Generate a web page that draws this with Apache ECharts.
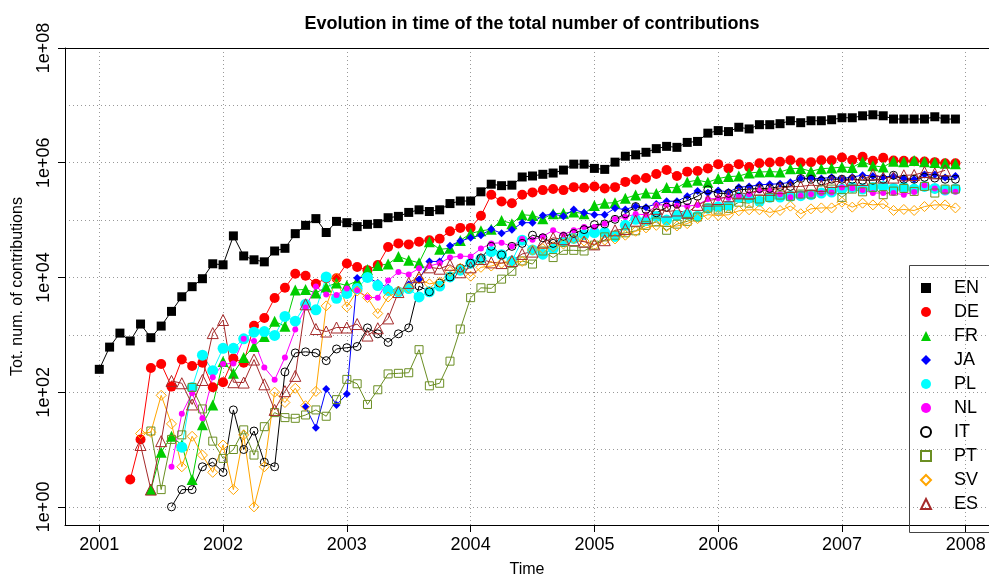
<!DOCTYPE html>
<html>
<head>
<meta charset="utf-8">
<script src="https://cdn.jsdelivr.net/npm/echarts@6/dist/echarts.min.js"></script>
<style>
  html, body { margin: 0; padding: 0; background: #fff; }
  #chart { width: 989px; height: 583px; }
</style>
</head>
<body>
<div id="chart"></div>
<script>
// monthly totals, month 0 = Jan 2001
const yearTicks = [2001, 2002, 2003, 2004, 2005, 2006, 2007, 2008];
const labelDecades = [1, 1e2, 1e4, 1e6, 1e8];
const gridDecades = [1, 1e1, 1e2, 1e3, 1e4, 1e5, 1e6, 1e7, 1e8];

const langs = ["EN", "DE", "FR", "JA", "PL", "NL", "IT", "PT", "SV", "ES"];
// first month with data for each language
const startMonth = { EN: 0, DE: 3, FR: 5, JA: 20, PL: 8, NL: 7, IT: 7, PT: 5, SV: 4, ES: 4 };

const EN = [250, 610, 1070, 780, 1540, 890, 1420, 2560, 4600, 6900,
  9500, 17300, 16600, 53000, 23700, 20300, 18700, 28900, 32200, 58000,
  80900, 106000, 60700, 94900, 90100, 76900, 84300, 86700, 110000, 116000,
  136000, 151000, 141000, 151000, 194000, 215000, 215000, 311000, 422000, 398000,
  406000, 564000, 587000, 628000, 661000, 745000, 944000, 944000, 796000, 765000,
  1023000, 1297000, 1371000, 1520000, 1760000, 1928000, 1853000, 2260000, 2350000, 3276000,
  3632000, 3490000, 4150000, 3882000, 4604000, 4604000, 4790000, 5395000, 4988000, 5395000,
  5395000, 5613000, 6080000, 6080000, 6578000, 6843000, 6578000, 5771000, 5771000, 5771000,
  5771000, 6324000, 5771000, 5771000];
const DE = [3, 15, 263, 310, 125, 370, 285, 325, 122, 149,
  385, 325, 1440, 1960, 4380, 6600, 11600, 10700, 7750, 9700,
  9700, 17500, 15200, 13400, 16400, 33900, 39200, 37700, 41900, 44600,
  47200, 63800, 73100, 73100, 119000, 276000, 211000, 197000, 276000, 304000,
  333000, 347000, 333000, 375000, 365000, 386000, 356000, 375000, 463000, 509000,
  542000, 636000, 745000, 587000, 699000, 716000, 796000, 944000, 796000, 944000,
  838000, 982000, 1010000, 1038000, 1107000, 1010000, 1023000, 1107000, 1107000, 1231000,
  1115000, 1265000, 1080000, 1217000, 1093000, 1080000, 1064000, 1051000, 1023000, 982000, 982000];
const FR = [2, 9, 17, 12, 3, 27, 60, 342, 213, 401,
  628, 935, 1715, 1407, 6050, 6170, 5350, 6780, 8030, 7230,
  8700, 13800, 16200, 17100, 23200, 20000, 18000, 42000, 30900, 32200,
  44200, 58300, 64900, 69100, 98700, 86700, 124000, 120000, 106000, 129000,
  132000, 138000, 129000, 179000, 197000, 201000, 240000, 273000, 296000, 292000,
  371000, 365000, 463000, 495000, 457000, 530000, 573000, 585000, 661000, 688000,
  699000, 688000, 787000, 796000, 708000, 787000, 806000, 838000, 826000, 1038000,
  886000, 838000, 1064000, 1038000, 1093000, 1038000, 1010000, 982000, 960000];
const JA = [55, 24, 113, 60, 93, 9800, 10200, 8000, 6600, 5790,
  7500, 9160, 19000, 19000, 35800, 43000, 49200, 54500, 69100, 59000,
  67500, 90100, 90100, 120000, 127000, 117000, 153000, 134000, 124000, 124000,
  161000, 153000, 175000, 168000, 191000, 213000, 213000, 260000, 320000, 296000,
  329000, 308000, 375000, 386000, 411000, 422000, 428000, 457000, 536000, 536000,
  530000, 557000, 530000, 564000, 604000, 587000, 564000, 587000, 530000, 515000,
  621000, 621000, 551000, 587000];
const PL = [11, 120, 442, 237, 582, 582, 851, 1110, 1140, 974,
  2090, 1730, 3400, 2730, 10200, 4320, 5270, 6410, 10000, 7230,
  5930, 5590, 6410, 4570, 5630, 7060, 10200, 13400, 17700, 21000,
  28200, 24900, 19400, 44700, 30100, 25400, 31800, 42000, 47800, 56000,
  60700, 60700, 51800, 80900, 103000, 98000, 115000, 100000, 120000, 124000,
  117000, 161000, 170000, 179000, 249000, 246000, 213000, 249000, 252000, 260000,
  266000, 277000, 296000, 308000, 347000, 371000, 347000, 371000, 386000, 356000,
  371000, 347000, 386000, 356000, 333000, 347000];
const NL = [5, 42, 96, 35, 181, 310, 317, 851, 780, 270,
  164, 401, 1240, 3000, 6940, 5040, 4930, 6410, 6000, 4500,
  4440, 8810, 12400, 11200, 14500, 15800, 17700, 22300, 23500, 23200,
  31800, 39200, 40200, 34800, 46600, 45400, 51800, 66400, 56000, 66400,
  76000, 76000, 86700, 104000, 113000, 127000, 124000, 184000, 184000, 177000,
  175000, 184000, 233000, 240000, 246000, 260000, 281000, 329000, 324000, 281000,
  249000, 266000, 281000, 296000, 304000, 371000, 360000, 333000, 296000, 296000,
  296000, 277000, 308000, 406000, 356000, 311000, 311000];
const IT = [1, 2, 2, 5, 6, 4, 49, 10, 21, 6,
  5, 225, 483, 505, 483, 354, 566, 596, 625, 1320,
  1040, 738, 1040, 1320, 7060, 5630, 8000, 10200, 14500, 17700,
  21600, 34800, 24700, 34800, 39200, 54500, 49200, 39200, 51800, 58300,
  68200, 83200, 85500, 103000, 129000, 172000, 153000, 134000, 168000, 191000,
  218000, 260000, 337000, 292000, 292000, 337000, 347000, 356000, 356000, 386000,
  386000, 530000, 515000, 482000, 515000, 515000, 515000, 495000, 495000, 515000,
  604000, 515000, 515000, 557000, 540000, 515000, 515000];
const PT = [21, 2, 15, 18, 121, 51, 14, 7, 10, 22,
  8, 25, 44, 36, 35, 40, 49, 38, 74, 167,
  140, 61, 110, 208, 213, 218, 550, 129, 143, 347,
  1260, 4440, 6600, 6450, 9340, 12800, 19400, 17100, 28900, 22200,
  29700, 29700, 28900, 36600, 50900, 54500, 60000, 65000, 80900, 92700,
  66400, 85000, 95000, 113000, 161000, 150000, 160000, 205000, 197000, 233000,
  249000, 273000, 260000, 284000, 284000, 337000, 347000, 249000, 347000, 311000,
  371000, 277000, 320000, 356000, 316000, 386000, 296000, 347000, 347000];
const SV = [19, 20, 88, 28, 5, 17, 8, 4, 12, 2,
  18, 1, 5, 100, 66, 117, 58, 103, 3190, 9700,
  3070, 5800, 4460, 2350, 4560, 5800, 6600, 9420, 7730, 8260,
  12800, 14500, 10500, 15000, 15800, 17700, 18500, 19000, 30100, 31800,
  34400, 38200, 47800, 43000, 36700, 44700, 46900, 54500, 63800, 73100,
  80900, 76900, 78800, 86700, 106000, 124000, 120000, 124000, 145000, 151000,
  151000, 136000, 147000, 175000, 129000, 157000, 163000, 163000, 205000, 168000,
  197000, 184000, 191000, 147000, 153000, 147000, 172000, 184000, 184000, 163000];
const ES = [12, 2, 14, 157, 143, 61, 163, 1070, 1810, 149,
  147, 370, 137, 49, 104, 192, 3400, 1260, 1140, 1340,
  1340, 1540, 970, 1300, 1930, 5560, 8040, 10200, 15000, 14200,
  16600, 12300, 15000, 21000, 18300, 17800, 19400, 25700, 28200, 40600,
  49000, 46400, 44600, 42000, 37700, 44600, 66300, 70000, 97600, 109000,
  157000, 141000, 147000, 134000, 184000, 218000, 233000, 260000, 292000, 292000,
  337000, 337000, 360000, 380000, 386000, 406000, 395000, 463000, 476000, 505000,
  501000, 628000, 551000, 551000, 604000, 611000, 688000, 653000, 736000];

const values = { EN, DE, FR, JA, PL, NL, IT, PT, SV, ES };

// look of each language's marker (R pch style)
const styles = {
  EN: { color: "#000000", symbol: "rect", size: 9, filled: true },
  DE: { color: "#ff0000", symbol: "circle", size: 10, filled: true },
  FR: { color: "#00cd00", symbol: "triangle", size: 11, filled: true },
  JA: { color: "#0000ff", symbol: "diamond", size: 8, filled: true },
  PL: { color: "#00ffff", symbol: "circle", size: 11, filled: true },
  NL: { color: "#ff00ff", symbol: "circle", size: 6, filled: true },
  IT: { color: "#000000", symbol: "circle", size: 8, filled: false },
  PT: { color: "#6b8e23", symbol: "rect", size: 8, filled: false },
  SV: { color: "#ffa500", symbol: "diamond", size: 10, filled: false },
  ES: { color: "#a52a2a", symbol: "triangle", size: 11, filled: false },
};

const font = "Liberation Sans, Arial, Helvetica, sans-serif";

const expLabel = (v) => {
  const e = Math.round(Math.log10(v));
  return "1e" + (e < 0 ? "-" : "+") + String(Math.abs(e)).padStart(2, "0");
};

const series = langs.map((name) => {
  const st = styles[name];
  return {
    name: name,
    type: "line",
    xAxisIndex: 0,
    yAxisIndex: 0,
    data: values[name].map((v, i) => [2001 + (startMonth[name] + i) / 12, v]),
    symbol: st.symbol,
    symbolSize: st.size,
    showSymbol: true,
    showAllSymbol: true,
    lineStyle: { color: st.color, width: 1 },
    itemStyle: {
      color: st.filled ? st.color : "rgba(0,0,0,0)",
      borderColor: st.color,
      borderWidth: st.filled ? 0 : 1,
    },
    emphasis: { disabled: true },
    animation: false,
  };
});

const chart = echarts.init(document.getElementById("chart"));
chart.setOption({
  animation: false,
  backgroundColor: "#fff",
  textStyle: { fontFamily: font },
  title: {
    text: "Evolution in time of the total number of contributions",
    left: 527,
    top: 10,
    textAlign: "center",
    textStyle: { fontFamily: font, fontSize: 18, fontWeight: "bold", color: "#000" },
  },
  grid: { left: 65, right: 0, top: 48, bottom: 53, containLabel: false },
  xAxis: [
    {
      type: "value",
      min: 2000.723,
      max: 2008.188,
      name: "Time",
      nameLocation: "middle",
      nameGap: 37,
      nameTextStyle: { fontFamily: font, fontSize: 16, color: "#000" },
      axisLine: { show: true, onZero: false, lineStyle: { color: "#000", width: 1 } },
      axisTick: { show: true, length: 7, customValues: yearTicks, lineStyle: { color: "#000" } },
      axisLabel: {
        customValues: yearTicks,
        margin: 11,
        fontSize: 18,
        color: "#000",
        fontFamily: font,
        formatter: (v) => String(Math.round(v)),
      },
      splitLine: { show: true, lineStyle: { color: "#999", type: [1, 3], width: 1 } },
    },
    {
      type: "value",
      position: "top",
      min: 2000.723,
      max: 2008.188,
      axisLine: { show: true, onZero: false, lineStyle: { color: "#000", width: 1 } },
      axisTick: { show: false },
      axisLabel: { show: false },
      splitLine: { show: false },
    },
  ],
  yAxis: [
    {
      type: "log",
      logBase: 10,
      min: 0.483,
      max: 1e8,
      name: "Tot. num. of contributions",
      nameLocation: "middle",
      nameGap: 39,
      nameTextStyle: { fontFamily: font, fontSize: 16, color: "#000" },
      axisLine: { show: true, lineStyle: { color: "#000", width: 1 } },
      axisTick: { show: true, length: 7, customValues: labelDecades, lineStyle: { color: "#000" } },
      axisLabel: {
        customValues: labelDecades,
        rotate: 90,
        margin: 12,
        fontSize: 18,
        color: "#000",
        fontFamily: font,
        formatter: expLabel,
      },
      splitLine: { show: false },
    },
    {
      type: "log",
      logBase: 10,
      min: 0.483,
      max: 1e8,
      axisLine: { show: false },
      axisTick: { show: false, customValues: gridDecades },
      axisLabel: { show: false },
      splitLine: { show: true, lineStyle: { color: "#999", type: [1, 3], width: 1 } },
    },
  ],
  legend: {
    orient: "vertical",
    left: 920,
    top: 279,
    padding: 0,
    itemGap: 6,
    itemWidth: 10,
    itemHeight: 10,
    selectedMode: false,
    textStyle: { fontFamily: font, fontSize: 18, color: "#000", padding: [0, 0, 0, 18] },
    data: langs.map((n) => ({ name: n, icon: styles[n].symbol })),
  },
  graphic: [
    {
      type: "rect",
      left: 907,
      top: 263,
      shape: { width: 120, height: 267 },
      style: { fill: "none", stroke: "#444", lineWidth: 1 },
      silent: true,
      z: 1,
    },
  ],
  series: series,
});
</script>
</body>
</html>
